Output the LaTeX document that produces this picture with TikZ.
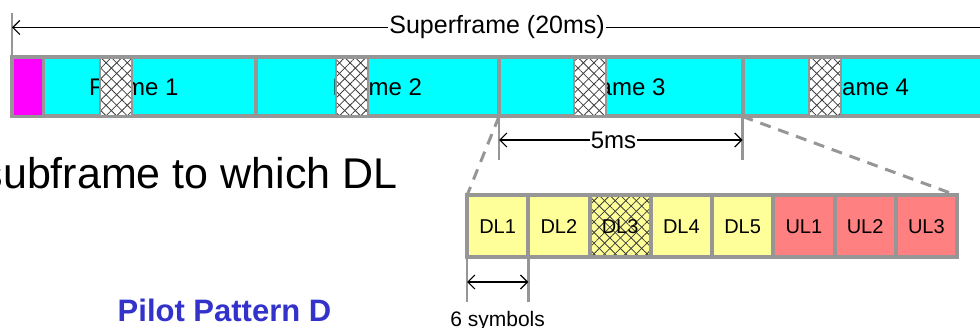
\documentclass[tikz,border=0pt]{standalone}
\usepackage{fontspec}
\setmainfont{Liberation Sans}
\usepackage{tikz}
\usetikzlibrary{positioning,chains,arrows.meta,patterns.meta}

\definecolor{framegray}{RGB}{150,150,150}
\definecolor{hatchgray}{RGB}{60,60,60}
\definecolor{cellcyan}{RGB}{0,255,255}
\definecolor{cellmagenta}{RGB}{255,0,255}
\definecolor{dlyellow}{RGB}{255,255,153}
\definecolor{ulred}{RGB}{255,128,128}
\definecolor{pilotblue}{RGB}{51,51,204}

\newcommand{\fsz}[1]{\fontsize{#1}{#1}\selectfont}

\begin{document}
\begin{tikzpicture}[x=1pt,y=-1pt]
	\useasboundingbox (0,0) rectangle (980,328);
	\tikzset{
		crosshatched/.style={preaction={fill=#1},
			preaction={pattern={Lines[angle=45,distance=7.5pt,line width=0.8pt]},pattern color=hatchgray},
			preaction={pattern={Lines[angle=-45,distance=7.5pt,line width=0.8pt]},pattern color=hatchgray}},
		framebox/.style={draw=framegray,line width=4pt,fill=cellcyan,outer sep=0pt,inner sep=0pt,
			minimum width=243.5pt,minimum height=59pt,font=\fsz{24pt}},
		preamblebox/.style={draw=framegray,line width=3pt,fill=cellmagenta,outer sep=0pt,inner sep=0pt,
			minimum width=31pt,minimum height=59pt},
		pilotbox/.style={crosshatched=white,draw=framegray,line width=2.5pt,outer sep=0pt,inner sep=0pt,
			minimum width=32pt,minimum height=59pt},
		cell/.style={draw=framegray,line width=4pt,outer sep=0pt,inner sep=0pt,
			minimum width=61.25pt,minimum height=62pt,font=\fsz{20pt}},
		dlcell/.style={cell,fill=dlyellow},
		dlpilot/.style={cell,crosshatched=dlyellow},
		ulcell/.style={cell,fill=ulred},
		dimtick/.style={draw=framegray,line width=2.5pt},
		dim/.style={<->,>={Straight Barb[length=7pt,width=14pt]},line width=1.2pt},
		zoomline/.style={draw=framegray,line width=3pt,dash pattern=on 11pt off 8pt}
	}

	%% Superframe: four frames
	\begin{scope}[start chain=sf going right,node distance=0pt]
		\node[on chain=sf,framebox] (f1) at (133.75,87) {Frame 1};
		\foreach \k in {2,3,4}
			\node[on chain=sf,framebox] (f\k) {Frame \k};
	\end{scope}
	\node[preamblebox,right=0pt of f1.west] (pre) {};
	\foreach \k/\d in {1/88pt,2/80.5pt,3/75pt,4/66.5pt}
		\node[pilotbox,right=\d of f\k.west] (p\k) {};

	%% Superframe length
	\coordinate[above=44pt of f1.north west] (sftop);
	\coordinate[above=30pt of f1.north west] (sfl);
	\coordinate (sfr) at (990,27.5);
	\draw[dimtick] (f1.north west) -- (sftop);
	\draw[dim] (sfl) -- node[pos=0.496,fill=white,inner sep=1pt,font=\fsz{25pt}] (sflabel) {Superframe (20ms)} (sfr);

	%% One frame = 5ms
	\coordinate[below=44pt of f3.south west] (t5l);
	\coordinate[below=44pt of f3.south east] (t5r);
	\coordinate[below=23.5pt of f3.south west] (a5l);
	\coordinate[below=23.5pt of f3.south east] (a5r);
	\draw[dimtick] (f3.south west) -- (t5l);
	\draw[dimtick] (f3.south east) -- (t5r);
	\draw[dim] (a5l) -- node[pos=0.47,fill=white,inner sep=1pt,font=\fsz{24pt}] (mslabel) {5ms} (a5r);

	%% Subframes of frame 3
	\begin{scope}[start chain=sub going right,node distance=0pt]
		\node[on chain=sub,dlcell] (c1) at (497.625,226.5) {DL1};
		\foreach \name/\kind [count=\i from 2] in {DL2/dlcell,DL3/dlpilot,DL4/dlcell,DL5/dlcell,UL1/ulcell,UL2/ulcell,UL3/ulcell}
			\node[on chain=sub,\kind] (c\i) {\name};
	\end{scope}
	\draw[zoomline] (f3.south west) -- (c1.north west);
	\draw[zoomline] (f3.south east) -- (c8.north east);

	%% Subframe length
	\coordinate[below=44.5pt of c1.south west] (t6l);
	\coordinate[below=44.5pt of c1.south east] (t6r);
	\coordinate[below=24.5pt of c1.south west] (a6l);
	\coordinate[below=24.5pt of c1.south east] (a6r);
	\draw[dimtick] (c1.south west) -- (t6l);
	\draw[dimtick] (c1.south east) -- (t6r);
	\draw[dim] (a6l) -- (a6r);
	\node[anchor=base,font=\fsz{21pt}] (sym) at ([yshift=-69.5pt]c1.south) {6 symbols};

	%% Texts on the left
	\node[anchor=base east,font=\fsz{43pt}] (note) at (401,189) {subframe to which DL};
	\node[anchor=base,font=\bfseries\fsz{31pt},text=pilotblue] (pattern) at (224.5,322) {Pilot Pattern D};
\end{tikzpicture}
\end{document}
